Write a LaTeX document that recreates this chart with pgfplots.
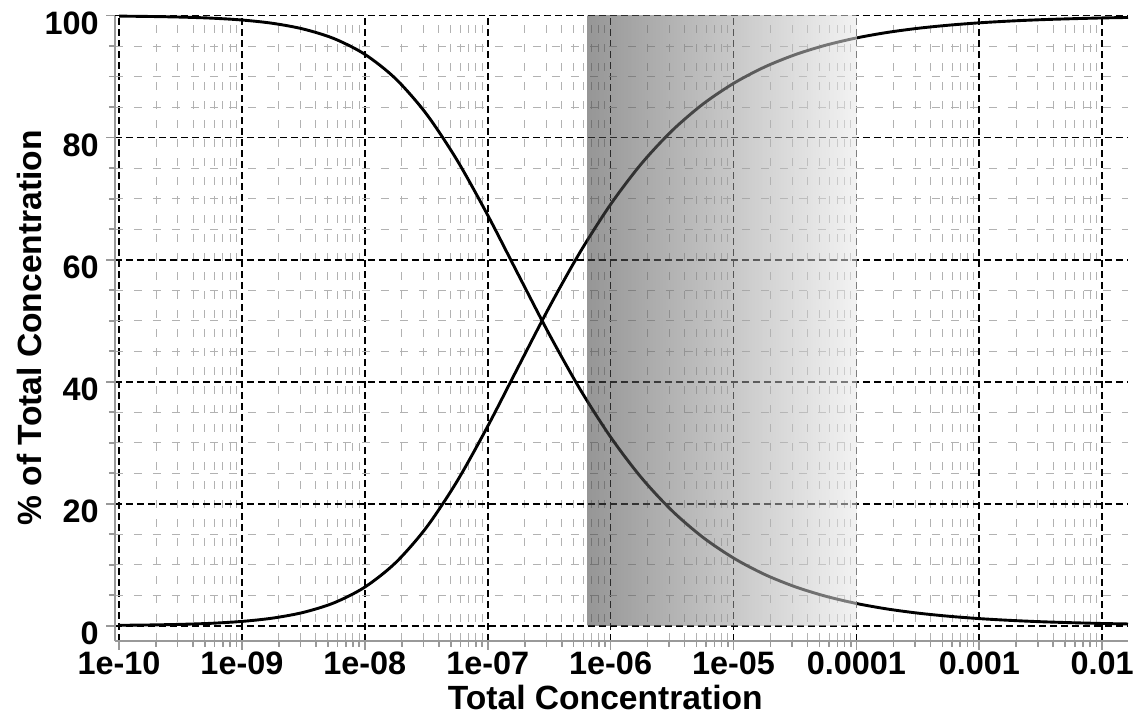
\documentclass[border=0pt]{standalone}
\usepackage{pgfplots}
\pgfplotsset{compat=1.18}
\usepackage{pgfplotstable}
\usepackage{fontspec}
\setmainfont{Liberation Sans}

% total concentration, % complex (rising), % free (falling)
\pgfplotstableread{
x         asc    desc
1e-10     0.07   99.93
1.778e-10 0.13   99.87
3.162e-10 0.23   99.77
5.623e-10 0.40   99.60
1e-9      0.71   99.29
1.778e-9  1.25   98.75
3.162e-9  2.19   97.81
5.623e-9  3.76   96.24
1e-8      6.33   93.67
1.778e-8  10.32  89.68
3.162e-8  16.08  83.92
5.623e-8  23.66  76.34
1e-7      32.70  67.30
1.778e-7  42.48  57.52
3.162e-7  52.19  47.81
5.623e-7  61.18  38.82
1e-6      69.07  30.93
1.778e-6  75.72  24.28
3.162e-6  81.15  18.85
5.623e-6  85.49  14.51
1e-5      88.90  11.10
1.778e-5  91.56  8.44
3.162e-5  93.60  6.40
5.623e-5  95.16  4.84
1e-4      96.35  3.65
1.778e-4  97.25  2.75
3.162e-4  97.93  2.07
5.623e-4  98.44  1.56
1e-3      98.83  1.17
1.778e-3  99.12  0.88
3.162e-3  99.34  0.66
5.623e-3  99.50  0.50
1e-2      99.63  0.37
1.622e-2  99.71  0.29
}\conc

\begin{document}
\begin{tikzpicture}
\begin{axis}[
    at={(0,0)}, anchor=south west,
    scale only axis,
    width=506.5pt, height=312.65pt,
    xmode=log,
    xmin=9.27e-11, xmax=0.01622,
    ymin=-2.5, ymax=100,
    axis x line=bottom, axis y line=left,
    axis line style={-, draw=black!40, line width=0.8pt},
    xtick={1e-10,1e-9,1e-8,1e-7,1e-6,1e-5,1e-4,1e-3,1e-2},
    xticklabels={1e-10,1e-09,1e-08,1e-07,1e-06,1e-05,0.0001,0.001,0.01},
    minor xtick={2e-10,3e-10,4e-10,5e-10,6e-10,7e-10,8e-10,9e-10,
        2e-9,3e-9,4e-9,5e-9,6e-9,7e-9,8e-9,9e-9,
        2e-8,3e-8,4e-8,5e-8,6e-8,7e-8,8e-8,9e-8,
        2e-7,3e-7,4e-7,5e-7,6e-7,7e-7,8e-7,9e-7,
        2e-6,3e-6,4e-6,5e-6,6e-6,7e-6,8e-6,9e-6,
        2e-5,3e-5,4e-5,5e-5,6e-5,7e-5,8e-5,9e-5,
        2e-4,3e-4,4e-4,5e-4,6e-4,7e-4,8e-4,9e-4,
        2e-3,3e-3,4e-3,5e-3,6e-3,7e-3,8e-3,9e-3},
    ytick={0,20,40,60,80,100},
    yticklabels={0,20,40,60,80,100},
    minor ytick={5,10,15,25,30,35,45,50,55,65,70,75,85,90,95},
    tick align=outside,
    tick style={black!40, line width=0.8pt},
    major tick length=4.5pt, minor tick length=3pt,
    grid=both,
    major grid style={black, line width=0.8pt, dash pattern=on 3.5pt off 2pt},
    minor grid style={black!30, line width=0.5pt, dash pattern=on 4pt off 5.5pt},
    ticklabel style={font=\fontsize{16.2}{19}\selectfont\bfseries, inner sep=1.5pt},
    xticklabel style={yshift=1pt},
    yticklabel style={yshift=-4pt, xshift=-2pt},
    label style={font=\fontsize{16.8}{20}\selectfont\bfseries, inner sep=1pt},
    xlabel={Total Concentration},
    ylabel={\% of Total Concentration},
    xlabel style={at={(axis description cs:0.484,-0.109)}, anchor=base},
    ylabel style={at={(axis description cs:-0.0721,0.501)}, anchor=base},
    clip=false,
]
\addplot[black, line width=1.45pt, smooth] table[x=x, y=desc] {\conc};
\addplot[black, line width=1.45pt, smooth] table[x=x, y=asc] {\conc};
% shaded range, laid over curves and grid
\addplot[draw=none, left color=black!75, right color=black!9, fill opacity=0.55]
    coordinates {(6.5e-7,0) (6.5e-7,100) (1e-4,100) (1e-4,0)} -- cycle;
\end{axis}
\pgfresetboundingbox
\path[use as bounding box] (-57.5pt,-37.5pt) rectangle (512.5pt,320.5pt);
\end{tikzpicture}
\end{document}
